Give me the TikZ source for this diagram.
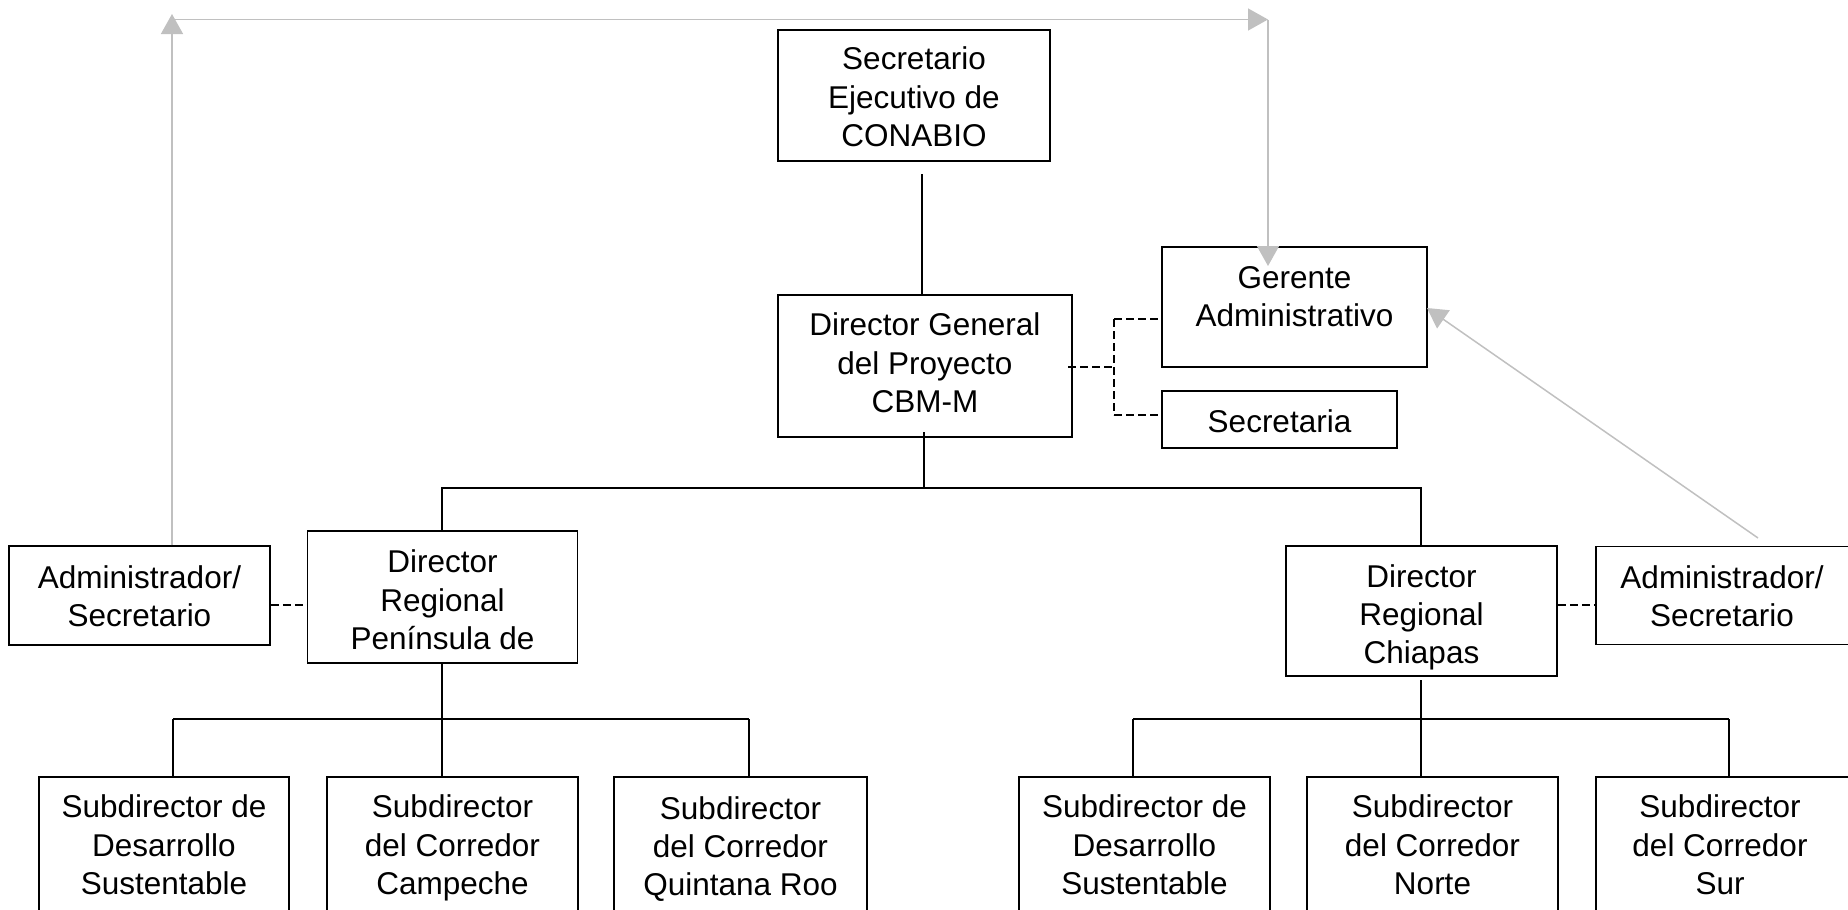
\documentclass[tikz,border=0pt]{standalone}
\usepackage{fontspec}
\setmainfont{Liberation Sans}
\usetikzlibrary{arrows.meta}
\definecolor{arrgray}{RGB}{192,192,192}
\tikzset{
  box/.style={draw=black, line width=1.5pt, inner sep=0pt, fill=none},
  txt/.style={align=center, inner sep=0pt, font=\fontsize{31.5}{38.3}\selectfont},
  conn/.style={draw=black, line width=1.5pt},
  dconn/.style={draw=black, line width=1.5pt, dash pattern=on 8pt off 4pt},
  garrow/.style={draw=arrgray, line width=1.5pt, -{Triangle[width=22pt,length=20pt]}, arrgray},
  gline/.style={draw=arrgray, line width=1.5pt}
}
\begin{document}
\begin{tikzpicture}[x=1pt,y=-1pt]
\useasboundingbox (0,0) rectangle (1848,910);
% boxes
\node[box, minimum width=272pt, minimum height=131pt] (secE) at (914,95.5) {};
\node[txt] (secEt) at (914,97) {Secretario\\Ejecutivo de\\CONABIO};
\node[box, minimum width=294pt, minimum height=142pt] (dg) at (925,366) {};
\node[txt] (dgt) at (925,363) {Director General\\del Proyecto\\CBM-M};
\node[box, minimum width=265pt, minimum height=120pt] (ger) at (1294.5,307) {};
\node[txt] (gert) at (1294.5,297) {Gerente\\Administrativo};
\node[box, minimum width=235pt, minimum height=57pt] (sec) at (1279.5,419.5) {};
\node[txt] (sect) at (1279.5,421.5) {Secretaria};
\node[box, minimum width=261pt, minimum height=99pt] (ladm) at (139.5,595.5) {};
\node[txt] (ladmt) at (139.5,596) {Administrador/\\Secretario};
\node[box, minimum width=270pt, minimum height=132pt] (pen) at (442.5,597) {};
\node[txt] (pent) at (442.5,600) {Director\\Regional\\Península de};
\node[box, minimum width=271pt, minimum height=130pt] (chi) at (1421.5,611) {};
\node[txt] (chit) at (1421.5,617.5) {Director\\Regional\\Chiapas};
\node[box, minimum width=304pt, minimum height=98pt] (radm) at (1748,595.5) {};
\node[txt] (radmt) at (1722,596) {Administrador/\\Secretario};
% sub boxes
\node[box, minimum width=250pt, minimum height=140pt] (s1) at (164,847) {};
\node[txt] (s1t) at (164,845) {Subdirector de\\Desarrollo\\Sustentable};
\node[box, minimum width=251pt, minimum height=140pt] (s2) at (452.5,847) {};
\node[txt] (s2t) at (452.5,848) {Subdirector\\del Corredor\\Campeche};
\node[box, minimum width=253pt, minimum height=140pt] (s3) at (740.5,847) {};
\node[txt] (s3t) at (740.5,849) {Subdirector\\del Corredor\\Quintana Roo};
\node[box, minimum width=251pt, minimum height=140pt] (s4) at (1144.5,847) {};
\node[txt] (s4t) at (1144.5,845) {Subdirector de\\Desarrollo\\Sustentable};
\node[box, minimum width=251pt, minimum height=140pt] (s5) at (1432.5,847) {};
\node[txt] (s5t) at (1432.5,845) {Subdirector\\del Corredor\\Norte};
\node[box, minimum width=304pt, minimum height=140pt] (s6) at (1748,847) {};
\node[txt] (s6t) at (1720,845) {Subdirector\\del Corredor\\Sur};
% coordinates
\coordinate (c1) at (922,174);
\coordinate (j1) at (924,488);
\coordinate (j1l) at (442,488);
\coordinate (j1r) at (1421,488);
\coordinate (j2) at (442,719);
\coordinate (j2l) at (173,719);
\coordinate (j2r) at (749,719);
\coordinate (j3) at (1421,719);
\coordinate (j3s) at (1421,680);
\coordinate (j3l) at (1133,719);
\coordinate (j3r) at (1729,719);
% solid tree
\draw[conn] (c1) -- (c1 |- dg.north);
\draw[conn] (924,432) -- (j1);
\draw[conn] (j1l |- pen.north) -- (j1l) -- (j1r) -- (j1r |- chi.north);
\draw[conn] (j2 |- pen.south) -- (j2);
\draw[conn] (j2l) -- (j2r);
\draw[conn] (j2l) -- (j2l |- s1.north);
\draw[conn] (j2) -- (j2 |- s2.north);
\draw[conn] (j2r) -- (j2r |- s3.north);
\draw[conn] (j3s) -- (j3);
\draw[conn] (j3l) -- (j3r);
\draw[conn] (j3l) -- (j3l |- s4.north);
\draw[conn] (j3) -- (j3 |- s5.north);
\draw[conn] (j3r) -- (j3r |- s6.north);
% dashed
\coordinate (d1) at (1114,367);
\coordinate (d2) at (1114,319);
\coordinate (d3) at (1114,415);
\draw[dconn] (1068,367) -- (d1);
\draw[dconn] (d2) -- (d3);
\draw[dconn] (d2) -- (d2 -| ger.west);
\draw[dconn] (d3) -- (d3 -| sec.west);
\coordinate (d4) at (290,605);
\coordinate (d5) at (1576,605);
\draw[dconn] (d4 -| ladm.east) -- (d4 -| pen.west);
\draw[dconn] (d5 -| chi.east) -- (d5 -| radm.west);
% gray arrows
\coordinate (g1) at (172,14);
\coordinate (g2) at (172,19.5);
\coordinate (g3) at (1268,19.5);
\coordinate (g4) at (1268,19.5);
\coordinate (g5) at (1268,266);
\coordinate (g6) at (1758,538);
\coordinate (g7) at (1427,308);
\draw[garrow] (g1 |- ladm.north) -- (g1);
\draw[garrow] (g2) -- (g3);
\draw[garrow] (g4) -- (g5);
\draw[garrow] (g6) -- (g7);
\end{tikzpicture}
\end{document}
